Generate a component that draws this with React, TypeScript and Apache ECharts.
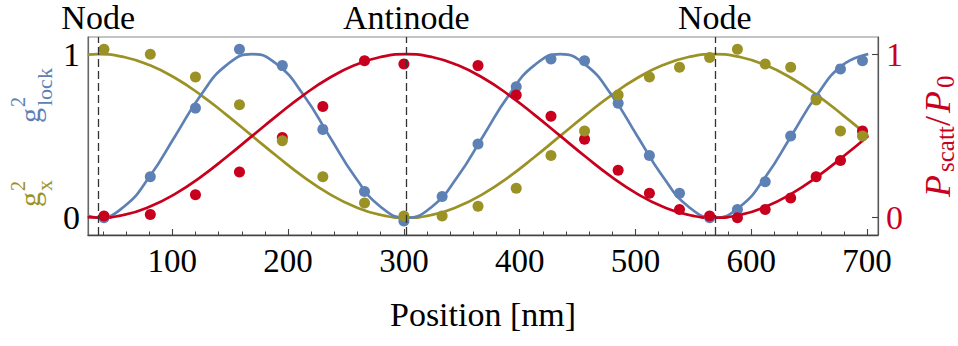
import React, { useEffect, useRef } from "react";
import * as echarts from "echarts";

// ---- data ----
const CURVE_X = [27, 36, 58.2, 80.3, 102.5, 124.7, 146.8, 169, 191.2, 213.3, 235.5, 257.7, 279.8, 302, 324.2, 346.3, 368.5, 390.7, 412.8, 435, 457.2, 479.3, 501.5, 523.7, 545.8, 568, 590.2, 612.3, 634.5, 656.7, 678.8, 701];
const FIT_GX = [0.997, 1, 0.983, 0.933, 0.854, 0.75, 0.629, 0.5, 0.371, 0.25, 0.146, 0.067, 0.017, 0, 0.017, 0.067, 0.146, 0.25, 0.371, 0.5, 0.629, 0.75, 0.854, 0.933, 0.983, 1, 0.983, 0.933, 0.854, 0.75, 0.629, 0.5];
const FIT_LOCK = [0.011, 0, 0.067, 0.25, 0.5, 0.75, 0.933, 1, 0.933, 0.75, 0.5, 0.25, 0.067, 0, 0.067, 0.25, 0.5, 0.75, 0.933, 1, 0.933, 0.75, 0.5, 0.25, 0.067, 0, 0.067, 0.25, 0.5, 0.75, 0.933, 1];
const FIT_SCATT = [0.003, 0, 0.017, 0.067, 0.146, 0.25, 0.371, 0.5, 0.629, 0.75, 0.854, 0.933, 0.983, 1, 0.983, 0.933, 0.854, 0.75, 0.629, 0.5, 0.371, 0.25, 0.146, 0.067, 0.017, 0, 0.017, 0.067, 0.146, 0.25, 0.371, 0.5];

const DATA_X = [41, 81, 120, 158, 195, 230, 266, 300, 333, 364, 397, 427, 456, 485, 512, 538, 564, 588, 612, 634, 656, 677, 696];
const DATA_GX = [1.03, 1.0, 0.86, 0.69, 0.47, 0.25, 0.09, 0.01, 0.01, 0.07, 0.18, 0.38, 0.53, 0.75, 0.86, 0.92, 0.98, 1.03, 0.94, 0.92, 0.72, 0.53, 0.5];
const DATA_LOCK = [0.0, 0.25, 0.67, 1.03, 0.93, 0.54, 0.16, -0.02, 0.13, 0.45, 0.8, 0.97, 0.96, 0.7, 0.38, 0.15, 0.0, 0.05, 0.22, 0.5, 0.73, 0.91, 0.96];
const DATA_SCATT = [0.01, 0.02, 0.14, 0.28, 0.49, 0.68, 0.96, 0.94, null, 0.93, 0.75, 0.62, 0.48, 0.29, 0.15, 0.05, 0.01, 0.0, 0.05, 0.12, 0.25, 0.35, 0.53];

const MARKER_POSITIONS = [36, 302, 568.5];
const MARKER_LABELS = ["Node", "Antinode", "Node"];

const X_MAJOR_TICKS = [100, 200, 300, 400, 500, 600, 700];
const X_MINOR_TICKS = [40, 60, 80, 120, 140, 160, 180, 220, 240, 260, 280, 320, 340, 360, 380, 420, 440, 460, 480, 520, 540, 560, 580, 620, 640, 660, 680];
const Y_TICKS = [0, 1];

// ---- styling ----
const OLIVE = "#9B9226";
const BLUE = "#5E81B5";
const RED = "#C8001E";
const SERIF = "'Liberation Serif', 'DejaVu Serif', serif";

const X_MIN = 27.2;
const X_MAX = 709.4;
const Y_MIN = -0.106;
const Y_MAX = 1.105;

function pairs(xs: number[], ys: (number | null)[]) {
  const out: number[][] = [];
  xs.forEach((x, i) => {
    const y = ys[i];
    if (y !== null && y !== undefined) out.push([x, y]);
  });
  return out;
}

function txt(text: string, x: number, y: number, size: number, fill: string, italic = false) {
  return {
    type: "text",
    x,
    y,
    style: {
      text,
      fontSize: size,
      fontFamily: SERIF,
      fontStyle: italic ? "italic" : "normal",
      fill,
      align: "left",
      verticalAlign: "middle",
    },
  };
}

export default function App() {
  const ref = useRef<HTMLDivElement>(null);

  useEffect(() => {
    if (!ref.current) return;
    const chart = echarts.init(ref.current, undefined, { renderer: "svg" });

    const lineCommon = {
      type: "line",
      showSymbol: false,
      smooth: true,
      z: 2,
      silent: true,
    };
    const scatterCommon = {
      type: "scatter",
      symbol: "circle",
      symbolSize: 11,
      z: 4,
      silent: true,
    };

    const option: any = {
      animation: false,
      backgroundColor: "#ffffff",
      grid: {
        left: 88,
        right: 80,
        top: 37,
        bottom: 111,
        show: true,
        borderColor: "#8a8a8a",
        borderWidth: 1.2,
        backgroundColor: "transparent",
      },
      xAxis: [
        {
          type: "value",
          min: X_MIN,
          max: X_MAX,
          position: "bottom",
          axisLine: { show: true, onZero: false, lineStyle: { color: "#444", width: 1.3 } },
          axisTick: {
            show: true,
            inside: true,
            length: 6,
            customValues: X_MAJOR_TICKS,
            lineStyle: { color: "#444", width: 1.1 },
          },
          axisLabel: {
            show: true,
            customValues: X_MAJOR_TICKS,
            fontSize: 33,
            fontFamily: SERIF,
            color: "#000",
            margin: 9,
          },
          splitLine: { show: false },
          name: "Position [nm]",
          nameLocation: "middle",
          nameGap: 62,
          nameTextStyle: { fontSize: 34, fontFamily: SERIF, color: "#000" },
        },
        {
          type: "value",
          min: X_MIN,
          max: X_MAX,
          position: "bottom",
          axisLine: { show: false, onZero: false },
          axisTick: {
            show: true,
            inside: true,
            length: 3.5,
            customValues: X_MINOR_TICKS,
            lineStyle: { color: "#444", width: 1 },
          },
          axisLabel: { show: false },
          splitLine: { show: false },
        },
      ],
      yAxis: [
        {
          type: "value",
          min: Y_MIN,
          max: Y_MAX,
          position: "left",
          axisLine: { show: true, onZero: false, lineStyle: { color: "#666", width: 1.2 } },
          axisTick: {
            show: true,
            inside: true,
            length: 6,
            customValues: Y_TICKS,
            lineStyle: { color: "#444", width: 1.1 },
          },
          axisLabel: {
            show: true,
            customValues: Y_TICKS,
            fontSize: 34,
            fontFamily: SERIF,
            color: "#000",
            margin: 8,
          },
          splitLine: { show: false },
        },
        {
          type: "value",
          min: Y_MIN,
          max: Y_MAX,
          position: "right",
          axisLine: { show: true, onZero: false, lineStyle: { color: "#555", width: 1.2 } },
          axisTick: {
            show: true,
            inside: true,
            length: 6,
            customValues: Y_TICKS,
            lineStyle: { color: "#444", width: 1.1 },
          },
          axisLabel: {
            show: true,
            customValues: Y_TICKS,
            fontSize: 34,
            fontFamily: SERIF,
            color: RED,
            margin: 8,
          },
          splitLine: { show: false },
        },
      ],
      series: [
        {
          type: "line",
          data: [],
          z: 1,
          silent: true,
          markLine: {
            silent: true,
            symbol: ["none", "none"],
            animation: false,
            lineStyle: { color: "#333", width: 1.3, type: [8, 4] },
            label: {
              show: true,
              position: "end",
              distance: 3,
              formatter: "{b}",
              fontSize: 34,
              fontFamily: SERIF,
              color: "#000",
            },
            data: MARKER_POSITIONS.map((x, i) => ({ xAxis: x, name: MARKER_LABELS[i] })),
          },
        },
        {
          ...lineCommon,
          name: "gx fit",
          data: pairs(CURVE_X, FIT_GX),
          lineStyle: { color: OLIVE, width: 2.7 },
          itemStyle: { color: OLIVE },
        },
        {
          ...lineCommon,
          name: "lock fit",
          data: pairs(CURVE_X, FIT_LOCK),
          lineStyle: { color: BLUE, width: 2.7 },
          itemStyle: { color: BLUE },
        },
        {
          ...lineCommon,
          name: "scatt fit",
          yAxisIndex: 1,
          data: pairs(CURVE_X, FIT_SCATT),
          lineStyle: { color: RED, width: 2.7 },
          itemStyle: { color: RED },
        },
        {
          ...scatterCommon,
          name: "lock",
          data: pairs(DATA_X, DATA_LOCK),
          itemStyle: { color: BLUE, opacity: 1 },
        },
        {
          ...scatterCommon,
          name: "scatt",
          yAxisIndex: 1,
          data: pairs(DATA_X, DATA_SCATT),
          itemStyle: { color: RED, opacity: 1 },
        },
        {
          ...scatterCommon,
          name: "gx",
          data: pairs(DATA_X, DATA_GX),
          itemStyle: { color: OLIVE, opacity: 1 },
        },
      ],
      graphic: [
        {
          type: "group",
          x: 29,
          y: 123,
          rotation: Math.PI / 2,
          children: [
            txt("g", 0, 0, 30, BLUE),
            txt("2", 16, -11.5, 20, BLUE),
            txt("lock", 17, 15.5, 22, BLUE),
          ],
        },
        {
          type: "group",
          x: 29,
          y: 207,
          rotation: Math.PI / 2,
          children: [
            txt("g", 0, 0, 30, OLIVE),
            txt("2", 16, -11.5, 20, OLIVE),
            txt("x", 16, 15.5, 22, OLIVE),
          ],
        },
        {
          type: "group",
          x: 938,
          y: 197,
          rotation: Math.PI / 2,
          children: [
            txt("P", 0, 0, 36, RED, true),
            txt("scatt", 25, 7, 25, RED),
            txt("/", 71, 0, 36, RED),
            txt("P", 84, 0, 36, RED, true),
            txt("0", 109, 7, 25, RED),
          ],
        },
      ],
    };

    chart.setOption(option);
    return () => {
      chart.dispose();
    };
  }, []);

  return (
    <div
      ref={ref}
      style={{ position: "fixed", left: 0, top: 0, width: 958, height: 346, background: "#fff" }}
    />
  );
}
